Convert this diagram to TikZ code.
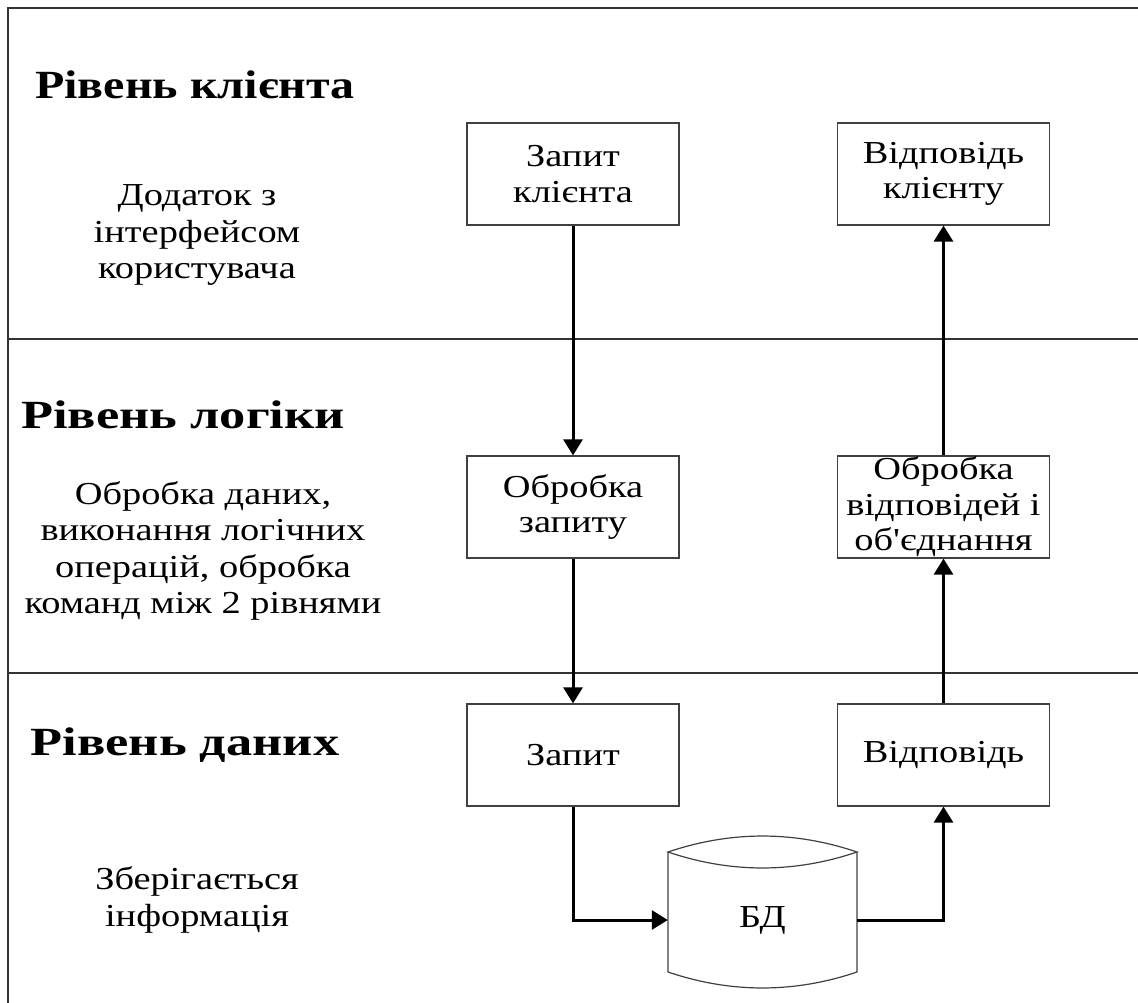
\documentclass[tikz,border=0pt]{standalone}
\usepackage{fontspec}
% plain families (no TeX ligature mapping) so the apostrophe stays straight;
% the lettering is set slightly wide
\newfontfamily\serif{Liberation Serif}[FakeStretch=1.2]
\newfontfamily\serifwide{Liberation Serif}[FakeStretch=1.31]
\usetikzlibrary{arrows.meta}
\begin{document}
\begin{tikzpicture}[x=1pt,y=-1pt,
  frame/.style={line width=1.4pt, draw=black!80},
  block/.style={draw=black!75, line width=1.2pt, minimum width=212pt,
    minimum height=102pt, align=center, inner sep=0pt,
    font=\serif\fontsize{32}{35.5}\selectfont},
  tier/.style={font=\serif\fontsize{40}{46}\selectfont\bfseries},
  widetier/.style={font=\serifwide\fontsize{40}{46}\selectfont\bfseries},
  note/.style={align=center, font=\serif\fontsize{32}{36.5}\selectfont},
  flow/.style={line width=3pt, -{Triangle[length=16pt,width=19pt]}}]
\useasboundingbox (0,0) rectangle (1138,1003);

% outer frame and tier separators
\draw[frame] (1138,8) -- (8,8) -- (8,1003);
\draw[frame] (8,339) -- (1138,339);
\draw[frame] (8,673) -- (1138,673);

% tier titles and descriptions
\node[tier] (t1) at (195,85) {Рівень клієнта};
\node[note] (n1) at (197,235) {Додаток з\\інтерфейсом\\користувача};
\node[widetier] (t2) at (183,415) {Рівень логіки};
\node[note] (n2) at (203,551) {Обробка даних,\\виконання логічних\\операцій, обробка\\команд між 2 рівнями};
\node[widetier] (t3) at (185,745) {Рівень даних};
\node[note] (n3) at (197,900) {Зберігається\\інформація};

% process blocks
\node[block] (q1) at (573,174) {Запит\\клієнта};
\node[block] (r1) at (943.5,174) {Відповідь\\клієнту};
\node[block] (q2) at (573,507) {Обробка\\запиту};
\node[block] (r2) at (943.5,507) {Обробка\\відповідей і\\об'єднання};
\node[block] (q3) at (573,755) {Запит};
\node[block] (r3) at (943.5,755) {Відповідь};

% database drum
\node[minimum width=189pt, minimum height=104pt, inner sep=0pt,
  font=\serif\fontsize{32}{36}\selectfont] (db) at (762.5,920) {БД};
\begin{scope}[shift={(db.center)}, draw=black!75, line width=1.2pt]
  \draw (-94.5,-68) .. controls (-31.5,-89.3) and (31.5,-89.3) .. (94.5,-68)
        .. controls (31.5,-46.7) and (-31.5,-46.7) .. (-94.5,-68) -- cycle;
  \draw (-94.5,-68) -- (-94.5,52)
        .. controls (-31.5,73.3) and (31.5,73.3) .. (94.5,52) -- (94.5,-68);
\end{scope}

% request and response flow
\draw[flow] (q1) -- (q2);
\draw[flow] (q2) -- (q3);
\draw[flow] (q3.south) |- (db.west);
\draw[flow] (db.east) -| (r3.south);
\draw[flow] (r3) -- (r2);
\draw[flow] (r2) -- (r1);
\end{tikzpicture}
\end{document}
